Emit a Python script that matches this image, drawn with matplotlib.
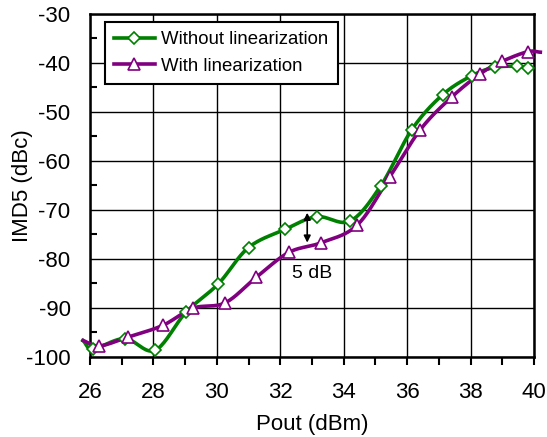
import numpy as np
import matplotlib
matplotlib.use("Agg")
import matplotlib.pyplot as plt

# Data
x_without = [25.78, 26.1, 27.1, 28.05, 29.03, 30.05, 31.0, 32.15, 33.15, 34.2, 35.17,
             36.15, 37.12, 38.04, 38.76, 39.46, 39.8]
y_without = [-96.7, -98.4, -96.3, -98.7, -90.9, -85.1, -77.7, -74.0, -71.4, -72.3, -65.1,
             -53.6, -46.5, -42.6, -40.9, -40.7, -41.0]
x_with = [25.78, 26.3, 27.2, 28.3, 29.24, 30.26, 31.24, 32.27, 33.3, 34.43, 35.45,
          36.42, 37.4, 38.31, 38.99, 39.8, 40.2]
y_with = [-96.7, -97.8, -96.0, -93.6, -90.1, -89.0, -83.8, -78.7, -76.7, -73.1, -63.3,
          -53.6, -47.0, -42.2, -39.7, -37.7, -37.8]
marks_without = list(range(1, 17))
marks_with = list(range(1, 16))

x_ticks = [26, 28, 30, 32, 34, 36, 38, 40]
y_ticks = [-100, -90, -80, -70, -60, -50, -40, -30]

GREEN = "#008000"
PURPLE = "#800080"

plt.rcParams['font.family'] = ['Liberation Sans', 'DejaVu Sans']
plt.rcParams['axes.unicode_minus'] = False


def smooth(xs, ys, n=20):
    # Catmull-Rom curve through the points (Excel-style smoothed line)
    p = np.column_stack([xs, ys]).astype(float)
    p = np.vstack([p[0] - (p[1] - p[0]), p, p[-1] + (p[-1] - p[-2])])
    out = []
    t = np.linspace(0, 1, n, endpoint=False)[:, None]
    for i in range(1, len(p) - 2):
        p0, p1, p2, p3 = p[i - 1], p[i], p[i + 1], p[i + 2]
        c = 0.5 * ((2 * p1) + (-p0 + p2) * t + (2 * p0 - 5 * p1 + 4 * p2 - p3) * t ** 2
                   + (-p0 + 3 * p1 - 3 * p2 + p3) * t ** 3)
        out.append(c)
    out.append(p[-2][None, :])
    c = np.vstack(out)
    return c[:, 0], c[:, 1]


fig = plt.figure(figsize=(5.47, 4.37), dpi=100)
ax = fig.add_axes([0.1645, 0.1838, 0.8117, 0.7842])

LW = 2.6
sx, sy = smooth(x_without, y_without)
ax.plot(sx, sy, color=GREEN, lw=LW, clip_on=False, zorder=3)
ax.plot([x_without[i] for i in marks_without], [y_without[i] for i in marks_without],
        ls='none', marker='D', ms=6, mfc='white', mec=GREEN, mew=1.2, clip_on=False, zorder=4)
sx, sy = smooth(x_with, y_with)
ax.plot(sx, sy, color=PURPLE, lw=LW, clip_on=False, zorder=3)
ax.plot([x_with[i] for i in marks_with], [y_with[i] for i in marks_with],
        ls='none', marker='^', ms=8.5, mfc='white', mec=PURPLE, mew=1.2, clip_on=False, zorder=4)

# legend proxies
h1, = ax.plot([], [], color=GREEN, lw=LW, marker='D', ms=6, mfc='white', mec=GREEN, mew=1.2)
h2, = ax.plot([], [], color=PURPLE, lw=LW, marker='^', ms=8.5, mfc='white', mec=PURPLE, mew=1.2)
leg = ax.legend([h1, h2], ["Without linearization", "With linearization"],
                loc='upper left', bbox_to_anchor=(0.033, 0.977), fontsize=13.4,
                frameon=True, fancybox=False, framealpha=1, edgecolor='black',
                handlelength=2.2, handletextpad=0.35, borderpad=0.5, labelspacing=0.5,
                borderaxespad=0)
leg.get_frame().set_linewidth(1.5)
leg.set_zorder(5)

# 5 dB annotation
ax.annotate("", xy=(32.85, -76.7), xytext=(32.85, -70.6),
            arrowprops=dict(arrowstyle='<|-|>', color='black', lw=1.2,
                            mutation_scale=10, shrinkA=0, shrinkB=0), zorder=6)
ax.text(33.0, -83.1, "5 dB", fontsize=14, ha='center', va='center')

ax.set_xlim(26, 40)
ax.set_ylim(-100, -30)
ax.set_xticks(x_ticks)
ax.set_yticks(y_ticks)
ax.set_xticks(np.arange(27, 40, 2), minor=True)
ax.set_yticks(np.arange(-95, -30, 10), minor=True)
ax.grid(True, which='major', color='black', lw=1.0)
ax.set_axisbelow(True)
ax.tick_params(axis='x', which='both', direction='out', length=6, width=1.5, labelsize=16, pad=12)
ax.tick_params(axis='y', which='major', direction='in', length=0, width=1.5, labelsize=16, pad=14)
ax.tick_params(axis='y', which='minor', direction='in', length=5, width=1.5)
for s in ax.spines.values():
    s.set_linewidth(1.8)
ax.set_xlabel("Pout (dBm)", fontsize=16, labelpad=8)
ax.set_ylabel("IMD5 (dBc)", fontsize=16, va='center')
ax.yaxis.set_label_coords(-0.153, 0.5)

fig.savefig("out.png", dpi=100)
